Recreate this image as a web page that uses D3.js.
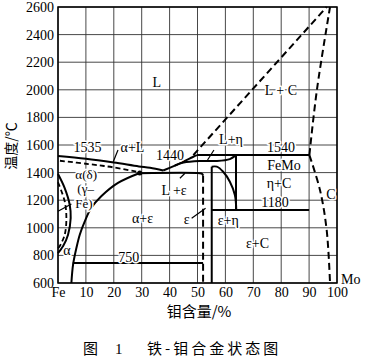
<!DOCTYPE html>
<html><head><meta charset="utf-8">
<script src="https://cdn.jsdelivr.net/npm/d3@7/dist/d3.min.js"></script>
<style>body{margin:0;background:#fff}svg{display:block}</style>
</head><body>
<svg id="c" width="365" height="357"></svg>
<script>
// ---- tick values / labels ----
const xTickValues = [0,10,20,30,40,50,60,70,80,90,100];
const xTickLabels = ["Fe","10","20","30","40","50","60","70","80","90","100"];
const yTickValues = [600,800,1000,1200,1400,1600,1800,2000,2200,2400,2600];

// ---- phase boundaries: [Mo wt%, temperature °C] ----
const liquidusFe   = [[0,1520],[10,1500],[20,1473],[29,1445],[33,1435],[37.7,1415]];
const liquidusEps  = [[37.7,1415],[41.9,1451],[43.7,1467],[48.5,1515],[49.8,1527]];
const line1540     = [[49.8,1527],[90,1527]];
const etaLower     = [[41.9,1451],[45,1473],[51,1484],[57,1484],[61.6,1498],[63.4,1520],[63.8,1527]];
const line1400     = [[29.3,1395],[50.8,1395],[51.7,1390],[52,1378]];
const solvusAlpha  = [[29.3,1397],[21.5,1325],[15.5,1228],[11.9,1143],[9.6,1047],[7.8,950],[6.6,854],[5.4,733],[4.8,600]];
const gammaOuter   = [[0,1390],[2.4,1288],[4.2,1167],[4.55,1071],[3.6,950],[1.8,866],[0,817]];
const epsRight     = [[55.1,1443],[55.1,600]];
const etaLeft      = [[55.1,1443],[56.9,1443],[59.2,1406],[61.6,1334],[63.4,1238],[63.9,1129]];
const etaRight     = [[63.8,1527],[63.8,1129]];
const line1180     = [[55.1,1129],[90,1129]];
const line750      = [[5.3,745],[52,745]];
// dashed boundaries
const solidusAlpha = [[0.7,1486],[10.9,1462],[19.8,1438],[28.8,1402],[29.3,1397]];
const gammaInner   = [[0,1330],[2.4,1192],[3.0,1071],[2.4,950],[0.6,866],[0,850]];
const epsLeft      = [[52,1378],[52,600]];
const liquidusC    = [[48.5,1527],[96.3,2600]];
const solidusC     = [[90.1,1527],[92.8,2000],[97.5,2600]];
const solvusC      = [[90.1,1527],[93.9,1274],[96.3,984],[97.5,600]];
// leader ticks
const leaders = [
  [[19.8,1479],[21.5,1564]],
  [[53.6,1491],[55.9,1564]],
  [[43.7,1359],[45.5,1395]],
  [[47.9,1069],[52.9,1141]],
  [[0,1120],[4.8,1172]]
];
const peritecticPoint = [29.3,1397];

// ---- region / temperature labels: [text, Mo %, °C] ----
const labels = [
  ["L",35.4,2059],["L + C",79.9,2000],["1535",10.6,1588],["α+L",26.7,1588],
  ["1440",40.1,1527],["L+η",62.0,1643],["1540",79.9,1588],["FeMo",81,1455],
  ["η+C",79.2,1325],["1180",77.8,1189],["C",97.8,1245],["ε+η",61.0,1057],
  ["ε+C",71.5,888],["L +ε",41.6,1274],["ε",46.1,1064],["α+ε",30.3,1069],
  ["α(δ)",10.1,1388],["(γ–",9.9,1285],["Fe)",9.3,1180],["α",3.2,839],["750",25.4,788]
];
const smallLabels = ["α(δ)","(γ–","Fe)"];

const svg = d3.select("#c");
const x = d3.scaleLinear().domain([0,100]).range([58,337]);
const y = d3.scaleLinear().domain([600,2600]).range([283,7]);
const serif = "'Liberation Serif','Times New Roman',serif";
const cjk = "'Noto Sans CJK SC',sans-serif";

// grid
const g = svg.append("g");
g.selectAll("line.v").data(xTickValues).join("line")
  .attr("x1",d=>x(d)).attr("x2",d=>x(d)).attr("y1",y(600)).attr("y2",y(2600))
  .attr("stroke","#333").attr("stroke-width",0.9);
g.selectAll("line.h").data(yTickValues).join("line").attr("class","h")
  .attr("x1",x(0)).attr("x2",x(100)).attr("y1",d=>y(d)).attr("y2",d=>y(d))
  .attr("stroke","#333").attr("stroke-width",0.9);
svg.append("rect").attr("x",x(0)).attr("y",y(2600)).attr("width",x(100)-x(0)).attr("height",y(600)-y(2600))
  .attr("fill","none").attr("stroke","#000").attr("stroke-width",1.5);

// axes tick labels
const yAxis = d3.axisLeft(y).tickValues(yTickValues).tickSize(0).tickPadding(4).tickFormat(d3.format("d"));
svg.append("g").attr("transform",`translate(${x(0)},0)`).call(yAxis)
  .call(a=>a.select(".domain").remove())
  .selectAll("text").attr("font-family",serif).attr("font-size",14).attr("fill","#000");
const xAxis = d3.axisBottom(x).tickValues(xTickValues).tickSize(0).tickPadding(4).tickFormat((d,i)=>xTickLabels[i]);
svg.append("g").attr("transform",`translate(0,${y(600)})`).call(xAxis)
  .call(a=>a.select(".domain").remove())
  .selectAll("text").attr("font-family",serif).attr("font-size",14).attr("fill","#000");
svg.append("text").attr("x",x(100)+4).attr("y",y(600)+1).attr("font-family",serif).attr("font-size",14).text("Mo");

// phase lines
const ln = d3.line().x(d=>x(d[0])).y(d=>y(d[1])).curve(d3.curveCatmullRom);
const solid = [liquidusFe,liquidusEps,line1540,etaLower,line1400,solvusAlpha,gammaOuter,epsRight,etaLeft,etaRight,line1180,line750];
const dashed = [liquidusC,solidusC,solvusC,epsLeft];
const dashedFine = [solidusAlpha,gammaInner];
svg.append("g").selectAll("path").data(solid).join("path").attr("d",ln)
  .attr("fill","none").attr("stroke","#000").attr("stroke-width",2);
svg.append("g").selectAll("path").data(dashed).join("path").attr("d",ln)
  .attr("fill","none").attr("stroke","#000").attr("stroke-width",2).attr("stroke-dasharray","7,4");
svg.append("g").selectAll("path").data(dashedFine).join("path").attr("d",ln)
  .attr("fill","none").attr("stroke","#000").attr("stroke-width",1.8).attr("stroke-dasharray","5,3");
svg.append("g").selectAll("path").data(leaders).join("path").attr("d",d3.line().x(d=>x(d[0])).y(d=>y(d[1])))
  .attr("fill","none").attr("stroke","#000").attr("stroke-width",1.2);
svg.append("circle").attr("cx",x(peritecticPoint[0])).attr("cy",y(peritecticPoint[1])).attr("r",2.5).attr("fill","#000");

// labels
svg.append("g").selectAll("text").data(labels).join("text")
  .attr("x",d=>x(d[1])).attr("y",d=>y(d[2])).attr("dy","0.35em").attr("text-anchor","middle")
  .attr("font-family",serif).attr("font-size",d=>smallLabels.includes(d[0])?13:14).attr("fill","#000")
  .attr("stroke","#fff").attr("stroke-width",3).attr("paint-order","stroke").attr("stroke-linejoin","round")
  .text(d=>d[0]);

// titles
svg.append("text").attr("transform","translate(16,146) rotate(-90)").attr("text-anchor","middle")
  .attr("font-family",cjk).attr("font-size",14).text("温度/℃");
svg.append("text").attr("x",199).attr("y",317).attr("text-anchor","middle")
  .attr("font-family",cjk).attr("font-size",15).text("钼含量/%");
svg.append("text").attr("x",83).attr("y",354).attr("font-family",cjk).attr("font-size",15).text("图");
svg.append("text").attr("x",115).attr("y",354).attr("font-family",serif).attr("font-size",15).text("1");
svg.append("text").attr("x",147).attr("y",354).attr("font-family",cjk).attr("font-size",15).attr("letter-spacing",3).text("铁-钼合金状态图");
</script>
</body></html>
